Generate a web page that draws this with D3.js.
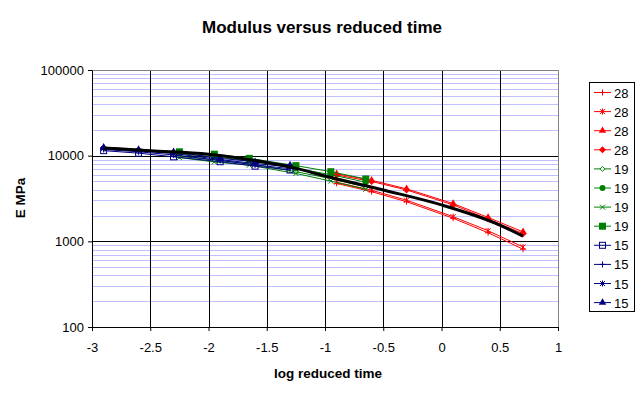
<!DOCTYPE html>
<html>
<head>
<meta charset="utf-8">
<script src="https://cdn.jsdelivr.net/npm/d3@7"></script>
<style>
  body { margin: 0; background: #fff; }
  text { font-family: "Liberation Sans", Arial, sans-serif; }
</style>
</head>
<body>
<svg id="chart" width="643" height="396"></svg>
<script>
// data
var redX = [-0.9, -0.6, -0.3, 0.1, 0.4, 0.7];
var red1 = [4750, 3800, 2900, 1860, 1260, 810];
var red2 = [4900, 3950, 3020, 1940, 1330, 860];
var red3 = [6150, 5150, 4100, 2760, 1900, 1290];
var red4 = [5950, 5000, 3980, 2660, 1820, 1230];

var greenX = [-2.25, -1.95, -1.65, -1.25, -0.95, -0.65];
var green1 = [9800, 8900, 8100, 6500, 5400, 4300];
var green2 = [10500, 9700, 8700, 7100, 6000, 4900];
var green3 = [9500, 8450, 7750, 6200, 5050, 4050];
var green4 = [11100, 10400, 9300, 7650, 6500, 5350];

var blueX = [-2.9, -2.6, -2.3, -1.9, -1.6, -1.3];
var blue1 = [11450, 10700, 9700, 8500, 7550, 6800];
var blue2 = [11800, 11100, 10200, 8800, 7800, 7050];
var blue3 = [12100, 11400, 10600, 9000, 8100, 7400];
var blue4 = [12500, 11800, 11100, 9300, 8500, 7780];

var masterX = [-2.9, -2.5, -2, -1.5, -1.25, -1, -0.5, 0, 0.5, 0.7];
var masterY = [12300, 11400, 10400, 8300, 7100, 5800, 3970, 2660, 1550, 1150];

var legendLabels = ["28", "28", "28", "28", "19", "19", "19", "19", "15", "15", "15", "15"];
var xTicks = [-3, -2.5, -2, -1.5, -1, -0.5, 0, 0.5, 1];
var yTicks = [100, 1000, 10000, 100000];

var series = [
  {x: redX, y: red1, color: "#ff0000", marker: "plus"},
  {x: redX, y: red2, color: "#ff0000", marker: "star"},
  {x: redX, y: red3, color: "#ff0000", marker: "triangle"},
  {x: redX, y: red4, color: "#ff0000", marker: "diamond"},
  {x: greenX, y: green1, color: "#008000", marker: "diamondOpen"},
  {x: greenX, y: green2, color: "#008000", marker: "circle"},
  {x: greenX, y: green3, color: "#008000", marker: "cross"},
  {x: greenX, y: green4, color: "#008000", marker: "square"},
  {x: blueX, y: blue1, color: "#000080", marker: "squareOpen"},
  {x: blueX, y: blue2, color: "#000080", marker: "plus"},
  {x: blueX, y: blue3, color: "#000080", marker: "star"},
  {x: blueX, y: blue4, color: "#000080", marker: "triangle"}
];

var svg = d3.select("#chart"),
    margin = {top: 70, right: 85, bottom: 69, left: 92},
    width = +svg.attr("width") - margin.left - margin.right,
    height = +svg.attr("height") - margin.top - margin.bottom;

var x = d3.scaleLinear().domain([-3, 1]).range([0, width]),
    y = d3.scaleLog().domain([100, 100000]).range([height, 0]);

var g = svg.append("g")
    .attr("transform", "translate(" + margin.left + "," + margin.top + ")");

// minor grid
var minor = [];
[100, 1000, 10000].forEach(function(d) {
  for (var k = 2; k <= 9; k++) minor.push(d * k);
});
g.selectAll(".minor")
  .data(minor)
  .enter().append("line")
    .attr("x1", 0).attr("x2", width)
    .attr("y1", function(d) { return Math.round(y(d)) + 0.5; })
    .attr("y2", function(d) { return Math.round(y(d)) + 0.5; })
    .attr("stroke", "#c0c0ff");

// major grid
g.selectAll(".hmajor")
  .data([1000, 10000])
  .enter().append("line")
    .attr("x1", 0).attr("x2", width)
    .attr("y1", function(d) { return Math.round(y(d)) + 0.5; })
    .attr("y2", function(d) { return Math.round(y(d)) + 0.5; })
    .attr("stroke", "#000");
g.selectAll(".vmajor")
  .data(xTicks.slice(1, -1))
  .enter().append("line")
    .attr("y1", 0).attr("y2", height)
    .attr("x1", function(d) { return Math.round(x(d)) + 0.5; })
    .attr("x2", function(d) { return Math.round(x(d)) + 0.5; })
    .attr("stroke", "#000");

// plot border top/right grey
g.append("path")
    .attr("d", "M0.5,0.5H" + (width + 0.5) + "V" + height)
    .attr("fill", "none")
    .attr("stroke", "#808080");

// axes
g.append("g")
    .attr("transform", "translate(0," + height + ")")
    .call(d3.axisBottom(x).tickValues(xTicks).tickSize(4).tickPadding(12)
      .tickFormat(function(d) { return String(d); }))
    .call(function(a) {
      a.select(".domain").attr("stroke", "#000");
      a.selectAll("text").attr("font-size", "13px").attr("fill", "#000");
    });

g.append("g")
    .call(d3.axisLeft(y).tickValues(yTicks).tickSize(4).tickPadding(4)
      .tickFormat(d3.format("d")))
    .call(function(a) {
      a.select(".domain").attr("stroke", "#000");
      a.selectAll("text").attr("font-size", "13px").attr("fill", "#000");
    });

// markers
function drawMarker(sel, type, color) {
  if (type === "plus") {
    sel.append("path").attr("d", "M-3,0H3M0,-3V3")
      .attr("stroke", color).attr("fill", "none");
  } else if (type === "cross") {
    sel.append("path").attr("d", "M-2.5,-2.5L2.5,2.5M-2.5,2.5L2.5,-2.5")
      .attr("stroke", color).attr("fill", "none");
  } else if (type === "star") {
    sel.append("path").attr("d", "M-2.5,-2.5L2.5,2.5M-2.5,2.5L2.5,-2.5M0,-3V3")
      .attr("stroke", color).attr("fill", "none");
  } else if (type === "triangle") {
    sel.append("path").attr("d", d3.symbol(d3.symbolTriangle, 24)())
      .attr("fill", color);
  } else if (type === "diamond") {
    sel.append("path").attr("d", "M0,-3.5L3.5,0L0,3.5L-3.5,0Z").attr("fill", color);
  } else if (type === "diamondOpen") {
    sel.append("path").attr("d", "M0,-2.5L2.5,0L0,2.5L-2.5,0Z")
      .attr("fill", "#fff").attr("stroke", color);
  } else if (type === "circle") {
    sel.append("circle").attr("r", 3).attr("fill", color);
  } else if (type === "square") {
    sel.append("rect").attr("x", -3.5).attr("y", -3.5).attr("width", 7).attr("height", 7)
      .attr("fill", color);
  } else if (type === "squareOpen") {
    sel.append("rect").attr("x", -3).attr("y", -3).attr("width", 6).attr("height", 6)
      .attr("fill", "none").attr("stroke", color);
  }
}

var line = d3.line()
    .x(function(d) { return x(d[0]); })
    .y(function(d) { return y(d[1]); });

series.forEach(function(s) {
  var pts = s.x.map(function(v, i) { return [v, s.y[i]]; });
  g.append("path")
      .datum(pts)
      .attr("d", line)
      .attr("fill", "none")
      .attr("stroke", s.color)
      .attr("stroke-width", 1);
  pts.forEach(function(p) {
    var m = g.append("g")
        .attr("transform", "translate(" + x(p[0]) + "," + y(p[1]) + ")");
    drawMarker(m, s.marker, s.color);
  });
});

// master curve
var master = masterX.map(function(v, i) { return [v, masterY[i]]; });
g.append("path")
    .datum(master)
    .attr("d", line.curve(d3.curveMonotoneX))
    .attr("fill", "none")
    .attr("stroke", "#000")
    .attr("stroke-width", 3);

// titles
svg.append("text")
    .attr("x", 322).attr("y", 33)
    .attr("text-anchor", "middle")
    .attr("font-size", "17px").attr("font-weight", "bold")
    .text("Modulus versus reduced time");

svg.append("text")
    .attr("x", 328).attr("y", 378)
    .attr("text-anchor", "middle")
    .attr("font-size", "13.5px").attr("font-weight", "bold")
    .text("log reduced time");

svg.append("text")
    .attr("transform", "translate(25,198) rotate(-90)")
    .attr("text-anchor", "middle")
    .attr("font-size", "13.5px").attr("font-weight", "bold")
    .text("E MPa");

// legend
var lg = svg.append("g").attr("transform", "translate(589,82)");
lg.append("rect")
    .attr("x", 0.5).attr("y", 0.5).attr("width", 45).attr("height", 229)
    .attr("fill", "#fff").attr("stroke", "#000");

legendLabels.forEach(function(lab, i) {
  var yy = 10.5 + i * 19.1;
  var s = series[i];
  lg.append("line")
      .attr("x1", 5).attr("x2", 22).attr("y1", yy).attr("y2", yy)
      .attr("stroke", s.color);
  drawMarker(lg.append("g").attr("transform", "translate(13.5," + yy + ")"), s.marker, s.color);
  lg.append("text")
      .attr("x", 25).attr("y", yy + 5)
      .attr("font-size", "13px")
      .text(lab);
});
</script>
</body>
</html>
